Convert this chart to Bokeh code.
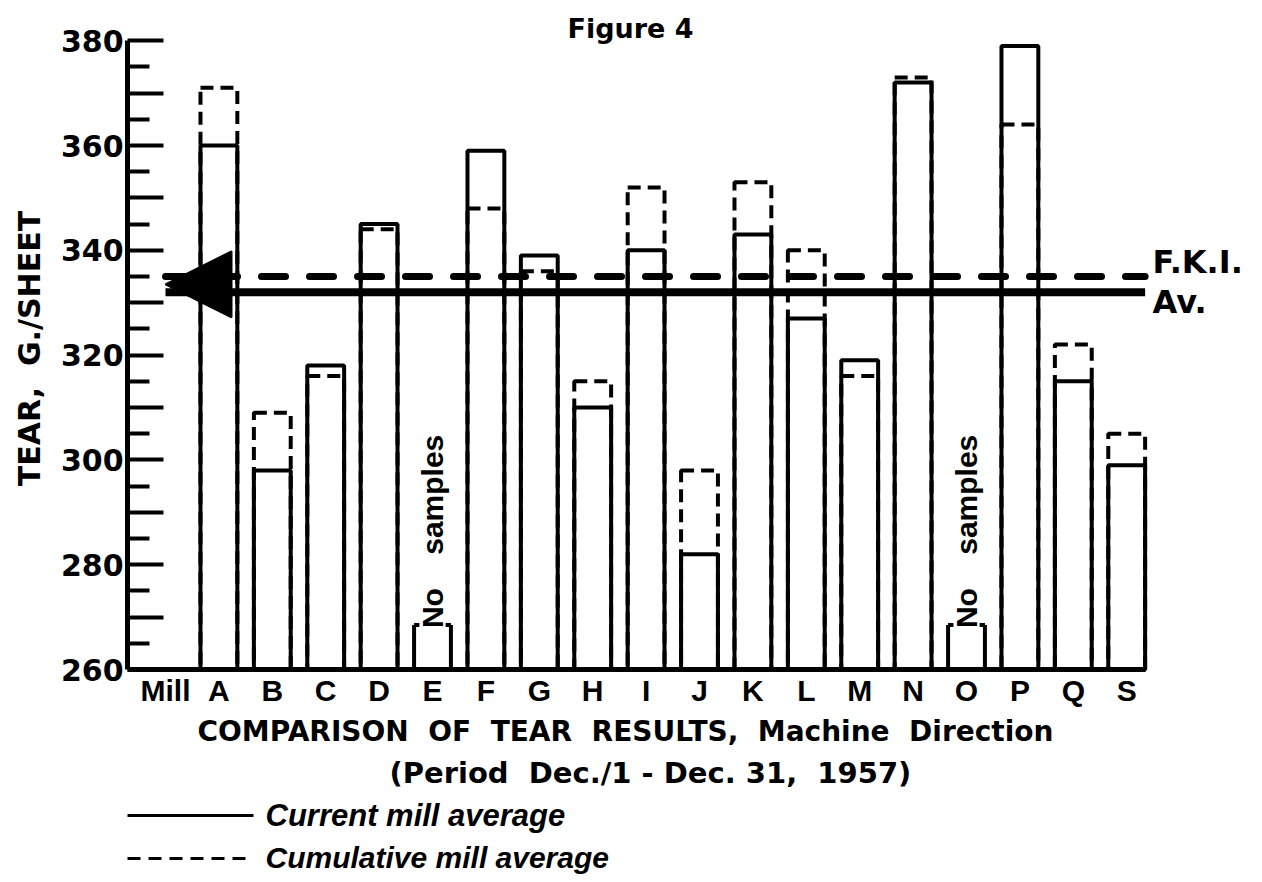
import math
from bokeh.plotting import figure
from bokeh.models import FixedTicker, Arrow, NormalHead
from bokeh.core.properties import value
from bokeh.embed import file_html
from bokeh.resources import INLINE

# ---------------- data ----------------
categories = ["Mill", "A", "B", "C", "D", "E", "F", "G", "H", "I",
              "J", "K", "L", "M", "N", "O", "P", "Q", "S"]
current_avg = [None, 360, 298, 318, 345, None, 359, 339, 310, 340,
               282, 343, 327, 319, 372, None, 379, 315, 299]
cumulative_avg = [None, 371, 309, 316, 344, None, 348, 336, 315, 352,
                  298, 353, 340, 316, 373, None, 364, 322, 305]
no_samples = ["E", "O"]
no_sample_stub = 268.5
mill_current = 332
mill_cumulative = 335
y_ticks = list(range(260, 381, 10))
y_labelled = list(range(260, 381, 20))
y_minor = list(range(265, 380, 10))

NB = "\u00a0"
title_text = "Figure 4"
y_title = "TEAR," + NB + NB + "G./SHEET"
x_title_1 = ("COMPARISON" + NB + NB + "OF" + NB + NB + "TEAR" + NB + NB + "RESULTS,"
             + NB + NB + "Machine" + NB + NB + "Direction")
x_title_2 = "(Period" + NB + NB + "Dec./1 - Dec. 31," + NB + NB + "1957)"
legend_current = "Current mill average"
legend_cumulative = "Cumulative mill average"
ref_label_1 = "F.K.I."
ref_label_2 = "Av."
no_samples_text = "No" + NB * 4 + "samples"

# ---------------- layout ----------------
W, H = 1258, 878
PX, PY = 53.4, 5.24          # pixels per data unit
X0 = -165 / PX
X1 = X0 + W / PX
Y1 = 260 + 669 / PY
Y0 = Y1 - H / PY
BW = 0.69
AXIS_LEFT = -0.71


def dx(img_x):
    return X0 + img_x / PX


def dy(img_y):
    return Y1 - img_y / PY


p = figure(width=W, height=H, x_range=(X0, X1), y_range=(Y0, Y1),
           output_backend="svg", toolbar_location=None, min_border=0)
p.grid.visible = False
p.outline_line_color = None
p.background_fill_color = "white"
p.border_fill_color = "white"

# ---------------- axes ----------------
ya = p.yaxis[0]
ya.fixed_location = AXIS_LEFT
ya.bounds = (y_ticks[0], y_ticks[-1])
ya.ticker = FixedTicker(ticks=y_ticks, minor_ticks=y_minor)
ya.major_label_overrides = {t: (str(t) if t in y_labelled else "") for t in y_ticks}
ya.major_tick_in = 36
ya.major_tick_out = 0
ya.minor_tick_in = 22
ya.minor_tick_out = 0
ya.major_tick_line_width = 4
ya.minor_tick_line_width = 4
ya.axis_line_width = 5
ya.axis_line_color = "black"
ya.major_tick_line_color = "black"
ya.minor_tick_line_color = "black"
ya.major_label_text_font = "DejaVu Sans"
ya.major_label_text_font_style = "bold"
ya.major_label_text_font_size = "30px"
ya.major_label_text_color = "black"
ya.major_label_standoff = 4

idx = list(range(len(categories)))
xa = p.xaxis[0]
xa.fixed_location = y_ticks[0]
xa.bounds = (AXIS_LEFT, idx[-1] + BW / 2)
xa.ticker = FixedTicker(ticks=idx, minor_ticks=[])
xa.major_label_overrides = {i: c for i, c in zip(idx, categories)}
xa.major_tick_in = 0
xa.major_tick_out = 0
xa.minor_tick_in = 0
xa.minor_tick_out = 0
xa.axis_line_width = 5
xa.axis_line_color = "black"
xa.major_label_text_font = "Liberation Sans"
xa.major_label_text_font_style = "bold"
xa.major_label_text_font_size = "30px"
xa.major_label_text_color = "black"
xa.major_label_standoff = 4

# ---------------- bars ----------------
bx = [i for i, v in zip(idx, current_avg) if v is not None]
bcur = [v for v in current_avg if v is not None]
bcum = [v for v in cumulative_avg if v is not None]

p.vbar(x=bx, top=bcur, bottom=260, width=BW, fill_color="white",
       line_color="black", line_width=4)
p.vbar(x=bx, top=bcum, bottom=260, width=BW, fill_color=None,
       line_color="black", line_width=4, line_dash="13 7")

# no-sample stubs
ns_x = [categories.index(c) for c in no_samples]
sides = [x - BW / 2 for x in ns_x] + [x + BW / 2 for x in ns_x]
hooks = [x - BW / 2 + 0.1 for x in ns_x] + [x + BW / 2 - 0.1 for x in ns_x]
p.segment(x0=sides, y0=260, x1=sides, y1=no_sample_stub,
          line_color="black", line_width=4)
p.segment(x0=sides, y0=no_sample_stub, x1=hooks, y1=no_sample_stub,
          line_color="black", line_width=4)
p.text(x=ns_x, y=[no_sample_stub - 0.6] * len(ns_x), text=[no_samples_text] * len(ns_x),
       angle=math.pi / 2, text_align="left", text_baseline="middle",
       text_font=value("Liberation Sans"), text_font_style="bold",
       text_font_size=value("30px"), text_color="black")

# ---------------- mill average lines ----------------
line_end = idx[-1] + BW / 2
p.line(x=[0, line_end], y=[mill_cumulative, mill_cumulative], line_color="black",
       line_width=7, line_dash="24 24", line_cap="round")
p.line(x=[0, line_end], y=[mill_current, mill_current], line_color="black",
       line_width=8)
p.add_layout(Arrow(end=NormalHead(size=66, fill_color="black", line_color="black",
                                  line_width=2),
                   x_start=1, y_start=(mill_current + mill_cumulative) / 2,
                   x_end=0, y_end=(mill_current + mill_cumulative) / 2,
                   line_color=None))

# ---------------- texts ----------------
def txt(x, y, s, font="DejaVu Sans", size="30px", style="bold",
        align="left", baseline="middle", angle=0.0):
    p.text(x=[x], y=[y], text=[s], angle=angle, text_align=align,
           text_baseline=baseline, text_font=value(font), text_font_style=style,
           text_font_size=value(size), text_color="black")


txt(dx(630), dy(28), title_text, size="27px", align="center")
txt(dx(29), dy(348), y_title, size="30px", align="center", angle=math.pi / 2)
txt(dx(1152), dy(261), ref_label_1, size="32px")
txt(dx(1152), dy(301), ref_label_2, size="32px")
txt(dx(197), dy(731), x_title_1, size="28px")
txt(dx(389), dy(772), x_title_2, size="29px")

# legend
p.line(x=[dx(127), dx(253)], y=[dy(815), dy(815)], line_color="black", line_width=3)
p.line(x=[dx(127), dx(253)], y=[dy(858), dy(858)], line_color="black", line_width=3,
       line_dash="13 8")
txt(dx(265), dy(815), legend_current, font="Liberation Sans", size="31px",
    style="bold italic")
txt(dx(265), dy(857), legend_cumulative, font="Liberation Sans", size="30px",
    style="bold italic")

open("out.html", "w").write(file_html(p, INLINE))
